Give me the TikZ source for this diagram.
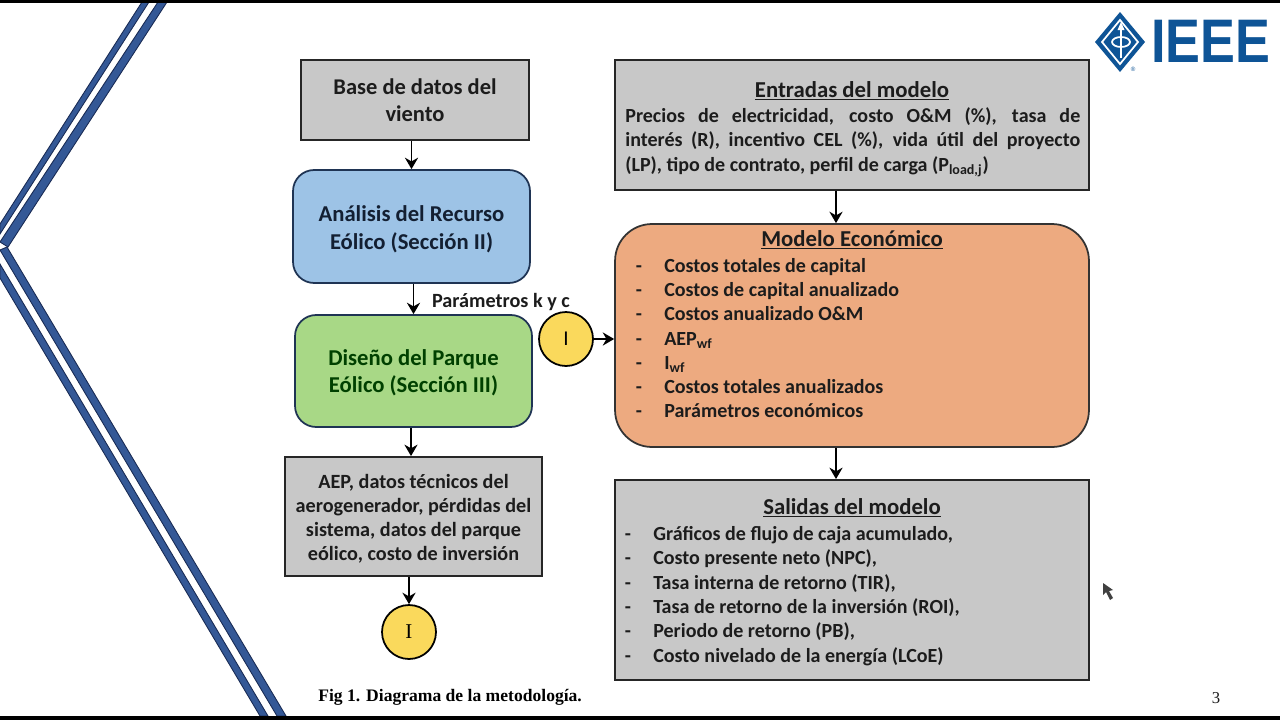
\documentclass[tikz,border=0pt]{standalone}
\usepackage{fontspec}
\setmainfont{Carlito}
\newfontfamily\capfont{Liberation Serif}
\newfontfamily\logofont{Liberation Sans}
\usetikzlibrary{arrows.meta}

\newcommand{\listdash}{\makebox[16.2pt][l]{-}}
\newcommand{\fullline}[1]{\makebox[9.1cm][s]{#1}}

\tikzset{
  graybox/.style={draw=black!85, line width=1.1pt, fill=boxgray, text=textdark, align=center,
    font=\fontsize{12.8}{15.4}\selectfont\bfseries},
  roundbox/.style={draw=edgeblue, line width=1pt, rounded corners=12pt, align=center,
    font=\fontsize{12.9}{15.6}\selectfont\bfseries},
  connector/.style={draw, shape=circle, line width=1pt, fill=markyellow, minimum size=1.08cm, inner sep=0pt},
  boxtitle/.style={text=textdark, font=\fontsize{12.95}{14}\selectfont\bfseries},
  listitem/.style={anchor=west, inner sep=0pt, text=textdark, text height=8pt, text depth=2.5pt,
    font=\fontsize{11.4}{14}\selectfont\bfseries},
  flow/.style={draw=black, line width=1pt, -{Stealth[length=6.5pt,width=7.5pt]}},
}

\begin{document}
\begin{tikzpicture}[x=0.02cm,y=-0.02cm]

% Define colors based on the image
\definecolor{boxgray}{RGB}{200,200,200}
\definecolor{textdark}{RGB}{28,28,28}
\definecolor{edgeblue}{RGB}{31,52,84}
\definecolor{stripblue}{RGB}{52,88,150}
\definecolor{stripedge}{RGB}{24,42,84}
\definecolor{analysisblue}{RGB}{157,195,230}
\definecolor{parkgreen}{RGB}{168,216,134}
\definecolor{modelorange}{RGB}{237,170,128}
\definecolor{markyellow}{RGB}{250,217,92}
\definecolor{logoblue}{RGB}{14,84,150}

% Page frame
\useasboundingbox (0,0) rectangle (1280,720);
\fill[white] (0,0) rectangle (1280,720);

% Diagonal strips on the left
\fill[stripblue, draw=stripedge, line width=0.5pt] (142,2) -- (149,2) -- (0,234) -- (0,224) -- cycle;
\fill[stripblue, draw=stripedge, line width=0.5pt] (158,2) -- (167,2) -- (8,247) -- (0,242) -- cycle;
\fill[stripblue, draw=stripedge, line width=0.5pt] (7,247) -- (286,716) -- (277,716) -- (0,250) -- cycle;
\fill[stripblue, draw=stripedge, line width=0.5pt] (0,264) -- (268,716) -- (260,716) -- (0,278) -- cycle;

% Black bars
\fill[black] (0,0) rectangle (1280,2.5);
\fill[black] (0,716) rectangle (1280,720);

% Left column
\node[graybox, minimum width=4.56cm, minimum height=1.6cm] (base) at (415,100) {Base de datos del\\viento};
\node[roundbox, fill=analysisblue, text=edgeblue!60!black, minimum width=4.74cm, minimum height=2.26cm] (analisis) at (411.5,226.5) {\rule{0pt}{12pt}An\'alisis del Recurso\\E\'olico (Secci\'on II)};
\node[roundbox, fill=parkgreen, text=green!25!black, minimum width=4.74cm, minimum height=2.24cm] (diseno) at (413.5,371) {\rule{0pt}{11pt}Dise\~no del Parque\\E\'olico (Secci\'on III)};
\node[graybox, minimum width=5.14cm, minimum height=2.38cm, font=\fontsize{11.5}{13.7}\selectfont\bfseries] (aep) at (413.5,516.5) {\rule{0pt}{11pt}AEP, datos t\'ecnicos del\\aerogenerador, p\'erdidas del\\sistema, datos del parque\\e\'olico, costo de inversi\'on};
\node[connector, font=\capfont\large] (markout) at (409,632) {I};
\node[text=textdark, inner sep=0pt, font=\fontsize{11.5}{14}\selectfont\bfseries] (params) at (501,302) {Par\'ametros k y c};

% Right column
\node[graybox, minimum width=9.48cm, minimum height=2.6cm] (entradas) at (852,125) {};
\node[roundbox, fill=modelorange, draw=black!80, rounded corners=21pt, minimum width=9.48cm, minimum height=4.46cm] (modelo) at (852,335.5) {};
\node[graybox, minimum width=9.48cm, minimum height=4cm] (salidas) at (852,580) {};
\node[connector, font=\large] (markin) at (566,339) {I};

% Box titles
\node[boxtitle] (titleent) at (852,91) {\underline{Entradas del modelo}};
\node[boxtitle] (titlemod) at (852,240) {\underline{Modelo Econ\'omico}};
\node[boxtitle] (titlesal) at (852,508) {\underline{Salidas del modelo}};

% Inputs text
\node[text=textdark, anchor=north west, inner sep=0pt, align=left,
  font=\fontsize{11.4}{14.1}\selectfont\bfseries] (inputs) at (625,107) {\fullline{Precios de electricidad, costo O\&M (\%), tasa de}\\\fullline{inter\'es (R), incentivo CEL (\%), vida \'util del proyecto}\\(LP), tipo de contrato, perfil de carga (P\textsubscript{load,j})};

% Economic model items
\foreach \y/\label in {265/{Costos totales de capital},289/{Costos de capital anualizado},313/{Costos anualizado O\&M},338/{AEP\textsubscript{wf}},362/{I\textsubscript{wf}},386/{Costos totales anualizados},410/{Par\'ametros econ\'omicos}} {
  \node[listitem] (eco\y) at (635.5,\y+2.5) {\listdash\label};
}

% Output items
\foreach \y/\label in {533/{Gr\'aficos de flujo de caja acumulado,},557/{Costo presente neto (NPC),},582/{Tasa interna de retorno (TIR),},606/{Tasa de retorno de la inversi\'on (ROI),},630/{Periodo de retorno (PB),},655/{Costo nivelado de la energ\'ia (LCoE)}} {
  \node[listitem] (out\y) at (624.5,\y+2.5) {\listdash\label};
}

% Arrows
\draw[flow] (base.south -| analisis.north) -- (analisis.north);
\draw[flow] (analisis.south -| diseno.north) -- (diseno.north);
\draw[flow] ([shift={(-2.5,0)}]diseno.south) -- ([shift={(-2.5,0)}]aep.north);
\draw[flow] (aep.south -| markout.north) -- (markout.north);
\draw[flow] (markin.east) -- (markin.east -| modelo.west);
\draw[flow] ([shift={(-16,0)}]entradas.south) -- ([shift={(-16,0)}]modelo.north);
\draw[flow] ([shift={(-16,0)}]modelo.south) -- ([shift={(-16,0)}]salidas.north);

% Caption and page number
\node[anchor=west, inner sep=0pt, font=\capfont\fontsize{10}{12}\selectfont\bfseries] (caption) at (318,697) {Fig 1. Diagrama de la metodolog\'ia.};
\node[text=textdark, inner sep=0pt, font=\capfont\fontsize{9.5}{12}\selectfont] (pagenum) at (1216,698) {3};

% Pointer
\fill[black!75] (1103,583) -- (1103,595) -- (1106,592) -- (1110,600) -- (1113,598) -- (1109,591) -- (1113,590) -- cycle;

% Logo
\fill[logoblue] (1120,12) -- (1145,42) -- (1120,72) -- (1095,42) -- cycle;
\draw[white, line width=1pt] (1120,20) -- (1138,42) -- (1120,64) -- (1102,42) -- cycle;
\draw[white, line width=1.2pt] (1121,58) -- (1121,26);
\fill[white] (1121,22) -- (1124.5,30) -- (1117.5,30) -- cycle;
\draw[white, line width=1pt] (1121,42) ellipse (9 and 5);
\node[text=logoblue, inner sep=0pt, transform shape, xscale=0.85, font=\logofont\fontsize{35}{35}\selectfont\bfseries] (ieee) at (1211,41) {IEEE};
\node[text=logoblue, inner sep=0pt, font=\logofont\fontsize{3.5}{4}\selectfont] (regmark) at (1133,69) {\textregistered};

\end{tikzpicture}
\end{document}
